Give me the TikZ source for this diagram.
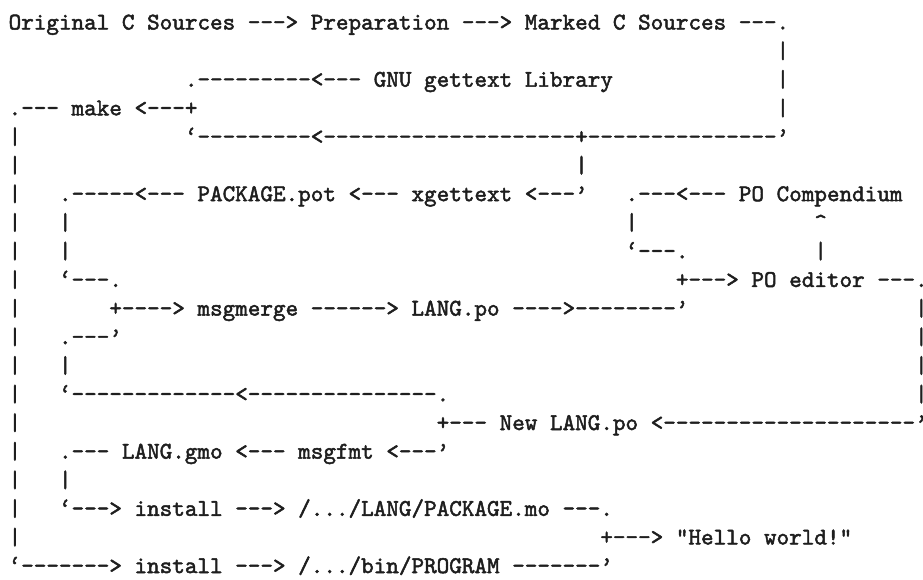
\documentclass[tikz,border=0pt]{standalone}
\usepackage{fontspec}
\usepackage{tikz}
\newfontfamily\asciifont[FakeBold=2]{lmmono10-regular.otf}
\definecolor{ink}{RGB}{30,30,30}
\tikzset{ascii/.style={anchor=base west,inner sep=0pt,outer sep=0pt,
  font=\asciifont\fontsize{10pt}{12pt}\selectfont,text=ink}}
\newcommand\asc[4]{\node[ascii] (#1) at ({3.6pt+#3*5.25pt},{-12.3pt-#2*11.93pt}) {#4};}
\begin{document}
\begin{tikzpicture}
\useasboundingbox (0,0) rectangle (384.9pt,-241.45pt);
\asc{r0a}{0}{0}{Original C Sources ---> Preparation ---> Marked C Sources ---.}
\asc{r1a}{1}{61}{|}
\asc{r2a}{2}{14}{.---------<--- GNU gettext Library}
\asc{r2b}{2}{61}{|}
\asc{r3a}{3}{0}{.--- make <---+}
\asc{r3b}{3}{61}{|}
\asc{r4a}{4}{0}{|}
\asc{r4b}{4}{14}{‘---------<--------------------+---------------’}
\asc{r5a}{5}{0}{|}
\asc{r5b}{5}{45}{|}
\asc{r6a}{6}{0}{|}
\asc{r6b}{6}{4}{.-----<--- PACKAGE.pot <--- xgettext <---’}
\asc{r6c}{6}{49}{.---<--- PO Compendium}
\asc{r7a}{7}{0}{|}
\asc{r7b}{7}{4}{|}
\asc{r7c}{7}{49}{|}
\asc{r7d}{7}{64}{\textasciicircum}
\asc{r8a}{8}{0}{|}
\asc{r8b}{8}{4}{|}
\asc{r8c}{8}{49}{‘---.}
\asc{r8d}{8}{64}{|}
\asc{r9a}{9}{0}{|}
\asc{r9b}{9}{4}{‘---.}
\asc{r9c}{9}{53}{+---> PO editor ---.}
\asc{r10a}{10}{0}{|}
\asc{r10b}{10}{8}{+----> msgmerge ------> LANG.po ---->--------’}
\asc{r10c}{10}{72}{|}
\asc{r11a}{11}{0}{|}
\asc{r11b}{11}{4}{.---’}
\asc{r11c}{11}{72}{|}
\asc{r12a}{12}{0}{|}
\asc{r12b}{12}{4}{|}
\asc{r12c}{12}{72}{|}
\asc{r13a}{13}{0}{|}
\asc{r13b}{13}{4}{‘-------------<---------------.}
\asc{r13c}{13}{72}{|}
\asc{r14a}{14}{0}{|}
\asc{r14b}{14}{34}{+--- New LANG.po <--------------------’}
\asc{r15a}{15}{0}{|}
\asc{r15b}{15}{4}{.--- LANG.gmo <--- msgfmt <---’}
\asc{r16a}{16}{0}{|}
\asc{r16b}{16}{4}{|}
\asc{r17a}{17}{0}{|}
\asc{r17b}{17}{4}{‘---> install ---> /.../LANG/PACKAGE.mo ---.}
\asc{r18a}{18}{0}{|}
\asc{r18b}{18}{47}{+---> "Hello world!"}
\asc{r19a}{19}{0}{‘-------> install ---> /.../bin/PROGRAM -------’}
\end{tikzpicture}
\end{document}
